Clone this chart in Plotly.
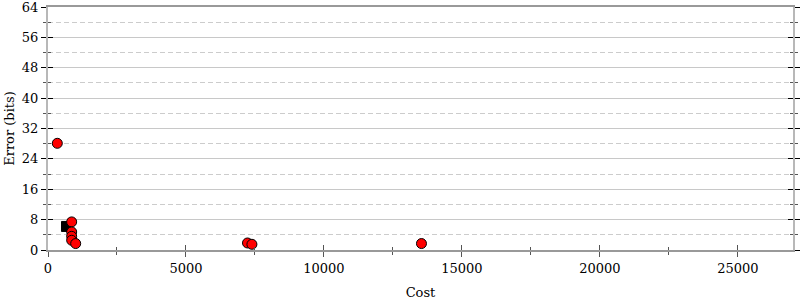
import plotly.graph_objects as go

# Data
circle_cost = [337, 858, 858, 858, 858, 1003, 7230, 7390, 13535]
circle_err = [28.1, 7.4, 4.75, 3.6, 2.56, 1.7, 1.85, 1.5, 1.7]
square_cost = [670]
square_err = [6.2]

x_range = [0, 27000]
y_range = [0, 64]
y_ticks = [0, 8, 16, 24, 32, 40, 48, 56, 64]
x_ticks = [0, 5000, 10000, 15000, 20000, 25000]
x_tick_labels = ["0", "5000", "10000", "15000", "20000", "25000"]

FONT = "DejaVu Serif"
GRID = "#c8c8c8"

fig = go.Figure()

# hidden traces to host overlay axes (crossing ticks)
fig.add_trace(go.Scatter(x=[], y=[], xaxis="x2", yaxis="y2", showlegend=False, hoverinfo="skip"))
fig.add_trace(go.Scatter(x=[], y=[], xaxis="x", yaxis="y3", showlegend=False, hoverinfo="skip"))
fig.add_trace(go.Scatter(x=[], y=[], xaxis="x", yaxis="y4", showlegend=False, hoverinfo="skip"))

fig.add_trace(go.Scatter(
    x=square_cost, y=square_err, mode="markers",
    marker=dict(symbol="square", size=10, color="black", line=dict(color="black", width=1)),
    showlegend=False,
))
fig.add_trace(go.Scatter(
    x=circle_cost, y=circle_err, mode="markers",
    marker=dict(symbol="circle", size=10, color="#ff0000", line=dict(color="black", width=1)),
    showlegend=False,
))

fig.update_layout(
    width=800, height=300,
    margin=dict(l=48, r=7, t=7, b=50, autoexpand=False),
    paper_bgcolor="white", plot_bgcolor="white",
    font=dict(family=FONT, size=13, color="black"),
    xaxis=dict(
        range=x_range, tickvals=x_ticks, ticktext=x_tick_labels, showgrid=False, zeroline=False,
        automargin=False, ticklabeloverflow="allow",
        ticks="outside", ticklen=5, tickcolor="#555", tickwidth=1,
        minor=dict(dtick=2500, ticks="outside", ticklen=3, tickcolor="#555", showgrid=False),
        showline=True, linecolor="#999999", linewidth=2, mirror=True,
        title=dict(text="Cost", font=dict(family=FONT, size=13), standoff=14),
        tickfont=dict(family=FONT, size=13),
    ),
    xaxis2=dict(
        range=x_range, overlaying="x", tickvals=x_ticks, showticklabels=False,
        automargin=False,
        showgrid=False, zeroline=False, ticks="inside", ticklen=5, tickcolor="#555",
        minor=dict(dtick=2500, ticks="inside", ticklen=3, tickcolor="#555", showgrid=False),
        showline=False, anchor="y",
    ),
    yaxis=dict(
        range=y_range, tickvals=y_ticks, zeroline=False, automargin=False,
        ticklabeloverflow="allow",
        showgrid=True, gridcolor=GRID, gridwidth=1,
        ticks="outside", ticklen=5, tickcolor="black", tickwidth=1,
        minor=dict(dtick=4, tick0=0, ticks="outside", ticklen=3, tickcolor="#555",
                   showgrid=True, gridcolor="#cccccc", griddash="5px,3px", gridwidth=1),
        showline=True, linecolor="#b8b8b8", linewidth=2,
        title=dict(text="Error (bits)", font=dict(family=FONT, size=13), standoff=4),
        tickfont=dict(family=FONT, size=13),
    ),
    yaxis2=dict(
        range=y_range, overlaying="y", tickvals=y_ticks, showticklabels=False,
        automargin=False,
        showgrid=False, zeroline=False, ticks="inside", ticklen=5, tickcolor="black",
        minor=dict(dtick=4, tick0=0, ticks="inside", ticklen=3, tickcolor="#555", showgrid=False),
        showline=False, anchor="x", side="left",
    ),
    yaxis3=dict(
        range=y_range, overlaying="y", side="right", tickvals=y_ticks, showticklabels=False,
        automargin=False,
        showgrid=False, zeroline=False, ticks="outside", ticklen=5, tickcolor="black",
        minor=dict(dtick=4, tick0=0, ticks="outside", ticklen=3, tickcolor="#555", showgrid=False),
        showline=True, linecolor="#b8b8b8", linewidth=2, anchor="x",
    ),
    yaxis4=dict(
        range=y_range, overlaying="y", side="right", tickvals=y_ticks, showticklabels=False,
        automargin=False,
        showgrid=False, zeroline=False, ticks="inside", ticklen=5, tickcolor="black",
        minor=dict(dtick=4, tick0=0, ticks="inside", ticklen=3, tickcolor="#555", showgrid=False),
        showline=False, anchor="x",
    ),
)

fig.write_html("out.html")
